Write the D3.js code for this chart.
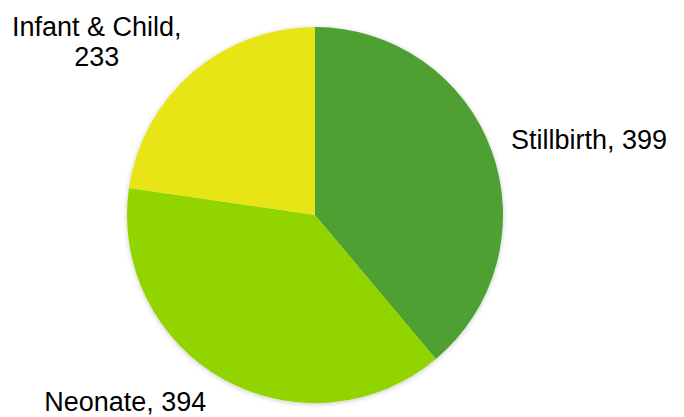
<!DOCTYPE html>
<html>
<head>
<meta charset="utf-8">
<script src="https://cdn.jsdelivr.net/npm/d3@7"></script>
<style>
  body { margin: 0; background: #fff; }
  text { font-family: "Liberation Sans", Arial, sans-serif; font-size: 27px; fill: #000; }
</style>
</head>
<body>
<svg id="chart" width="684" height="417"></svg>
<script>
// data
const categories = ["Stillbirth", "Neonate", "Infant & Child"];
const values = [399, 394, 233];
const colors = ["#4fa032", "#92d400", "#e8e517"];

const width = 684, height = 417;
const cx = 315, cy = 215, radius = 188;

const svg = d3.select("#chart");

const defs = svg.append("defs");
const f = defs.append("filter").attr("id", "shadow")
    .attr("x", "-10%").attr("y", "-10%").attr("width", "120%").attr("height", "120%");
f.append("feDropShadow").attr("dx", 0).attr("dy", 1).attr("stdDeviation", 2.5)
    .attr("flood-color", "#000").attr("flood-opacity", 0.22);

const pie = d3.pie().sort(null).value(d => d)(values);
const arc = d3.arc().innerRadius(0).outerRadius(radius);

const g = svg.append("g").attr("transform", "translate(" + cx + "," + cy + ")");

g.append("g").attr("filter", "url(#shadow)")
    .selectAll("path")
    .data(pie)
    .enter()
    .append("path")
    .attr("d", arc)
    .style("fill", (d, i) => colors[i]);

// label placement (outside the slices, roughly like excel's best fit)
const labelArc = d3.arc().innerRadius(radius + 95).outerRadius(radius + 95);
const nudge = [[8, 22], [-52, -60], [-33, 41]];
const lines = [
    d => [categories[0] + ", " + values[0]],
    d => [categories[1] + ", " + values[1]],
    d => [categories[2] + ",", String(values[2])]
];

pie.forEach((d, i) => {
    const c = labelArc.centroid(d);
    const t = g.append("text")
        .attr("text-anchor", "middle")
        .attr("transform", "translate(" + (c[0] + nudge[i][0]) + "," + (c[1] + nudge[i][1]) + ")");
    const ls = lines[i](d);
    ls.forEach((s, k) => {
        t.append("tspan").attr("x", 0)
            .attr("y", (k - (ls.length - 1) / 2) * 30 + 9)
            .text(s);
    });
});
</script>
</body>
</html>
